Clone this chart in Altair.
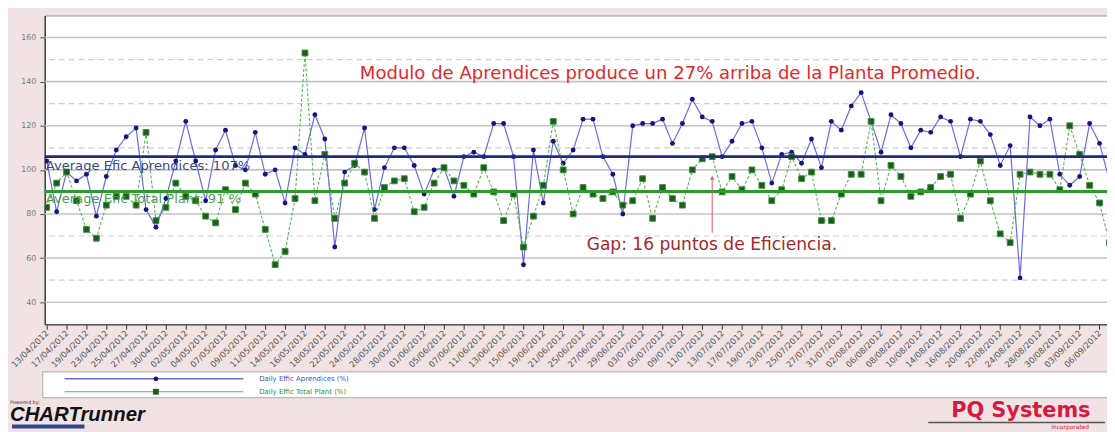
import altair as alt
import pandas as pd

# ---------------- data ----------------
blue_vals = [104, 81, 99, 95, 98, 79, 97, 109, 115, 119,
             82, 74, 87, 104, 122, 104, 86, 109, 118, 102,
             100, 117, 98, 100, 85, 110, 107, 125, 114, 65,
             99, 102, 119, 82, 101, 110, 110, 102, 89, 100,
             101, 88, 106, 108, 106, 121, 121, 106, 57, 109,
             85, 113, 103, 109, 123, 123, 106, 98, 80, 120,
             121, 121, 123, 112, 121, 132, 124, 122, 106, 113,
             121, 122, 110, 94, 107, 108, 103, 114, 101, 122,
             118, 129, 135, 122, 108, 125, 121, 110, 118, 117,
             124, 122, 106, 123, 122, 116, 102, 111, 51, 124,
             120, 123, 98, 93, 97, 121, 112, 95]

green_vals = [83, 94, 99, 86, 73, 69, 84, 88, 88, 84,
              117, 77, 83, 94, 88, 86, 79, 76, 91, 82,
              94, 89, 73, 57, 63, 87, 153, 86, 107, 78,
              94, 103, 99, 78, 92, 95, 96, 81, 83, 94,
              101, 95, 93, 89, 101, 90, 77, 89, 65, 79,
              93, 122, 100, 80, 92, 89, 87, 90, 84, 86,
              96, 78, 92, 87, 84, 100, 105, 106, 90, 97,
              91, 100, 93, 86, 91, 106, 96, 99, 77, 77,
              89, 98, 98, 122, 86, 102, 97, 88, 90, 92,
              97, 98, 78, 89, 104, 86, 71, 67, 98, 99,
              98, 98, 91, 120, 107, 93, 85, 67]

tick_labels = ["13/04/2012", "17/04/2012", "19/04/2012", "23/04/2012", "25/04/2012",
               "27/04/2012", "30/04/2012", "02/05/2012", "04/05/2012", "07/05/2012",
               "09/05/2012", "11/05/2012", "14/05/2012", "16/05/2012", "18/05/2012",
               "22/05/2012", "24/05/2012", "28/05/2012", "30/05/2012", "01/06/2012",
               "05/06/2012", "07/06/2012", "11/06/2012", "13/06/2012", "15/06/2012",
               "19/06/2012", "21/06/2012", "25/06/2012", "27/06/2012", "29/06/2012",
               "03/07/2012", "05/07/2012", "09/07/2012", "11/07/2012", "13/07/2012",
               "17/07/2012", "19/07/2012", "23/07/2012", "25/07/2012", "27/07/2012",
               "31/07/2012", "02/08/2012", "06/08/2012", "08/08/2012", "10/08/2012",
               "14/08/2012", "16/08/2012", "20/08/2012", "22/08/2012", "24/08/2012",
               "28/08/2012", "30/08/2012", "03/09/2012", "06/09/2012"]

series_names = ["Daily Effic Aprendices (%)", "Daily Effic Total Plant (%)"]
avg_values = [106, 90.2]
avg_labels = ["Average Efic Aprendices: 107%", "Average Efic Total Plant: 91 %"]
solid_grid = [40, 60, 80, 100, 120, 140, 160]
dashed_grid = [50, 70, 90, 110, 130, 150]
y_ticks = [40, 50, 60, 70, 80, 90, 100, 110, 120, 130, 140, 150, 160]

headline = "Modulo de Aprendices produce un 27% arriba de la Planta Promedio."
gap_text = "Gap: 16 puntos de Eficiencia."
gap_arrow = {"i": 67, "from": 71.5, "to": 96.4}

# ---------------- tables ----------------
df = pd.DataFrame({"i": list(range(len(blue_vals))), "blue": blue_vals, "green": green_vals})
solid_df = pd.DataFrame({"v": solid_grid})
dashed_df = pd.DataFrame({"v": dashed_grid})
arrow_df = pd.DataFrame([gap_arrow])
one = pd.DataFrame({"k": [0]})  # single row for annotations

xscale = alt.Scale(domain=[-0.2, 106.75], nice=False, zero=False)
yscale = alt.Scale(domain=[30, 170], nice=False, zero=False)

label_arr = "[" + ",".join("'" + s + "'" for s in tick_labels) + "]"
xaxis = alt.Axis(values=list(range(0, 2 * len(tick_labels), 2)),
                 labelExpr=label_arr + "[round(datum.value/2)]",
                 title=None, grid=False, domain=True, domainColor="#555555", domainWidth=1.5,
                 ticks=True, tickColor="#333333", tickSize=5, tickWidth=1,
                 labelAngle=315, labelAlign="right", labelBaseline="middle",
                 labelFont="DejaVu Sans", labelFontSize=8.5, labelColor="#555555",
                 labelPadding=2, labelOverlap=False, labelFlush=False)
yaxis = alt.Axis(values=y_ticks,
                 labelExpr="datum.value % 20 == 0 ? datum.label : ''",
                 title=None, grid=False, domain=True, domainColor="#444444", domainWidth=1.5,
                 ticks=True, tickColor="#555555", tickSize=5,
                 labelFont="DejaVu Sans", labelFontSize=8, labelColor="#777777",
                 labelPadding=4)

X = alt.X("i:Q", scale=xscale, axis=xaxis)

grid_solid = alt.Chart(solid_df).mark_rule(color="#c4c4c4", strokeWidth=1.6).encode(
    y=alt.Y("v:Q", scale=yscale, axis=yaxis))
grid_dash = alt.Chart(dashed_df).mark_rule(color="#cfcfcf", strokeWidth=1.2, strokeDash=[6, 4]).encode(
    y=alt.Y("v:Q", scale=yscale, axis=yaxis))

base = alt.Chart(df)
blue_line = base.mark_line(color="#6a6aec", strokeWidth=1.2, clip=True).encode(
    x=X, y=alt.Y("blue:Q", scale=yscale, axis=yaxis))
blue_pts = base.mark_circle(color="#15157a", size=24, opacity=1, clip=True).encode(
    x=X, y=alt.Y("blue:Q", scale=yscale, axis=yaxis))
green_line = base.mark_line(color="#58b458", strokeWidth=1.1, strokeDash=[3, 2], clip=True).encode(
    x=X, y=alt.Y("green:Q", scale=yscale, axis=yaxis))
green_pts = base.mark_square(color="#1d5a1d", size=34, opacity=1, stroke="#3f923f",
                             strokeWidth=1, clip=True).encode(
    x=X, y=alt.Y("green:Q", scale=yscale, axis=yaxis))

ann = alt.Chart(one)

avg_blue = ann.mark_rule(color="#1f2a86", strokeWidth=3).encode(y=alt.datum(avg_values[0]))
avg_green = ann.mark_rule(color="#2c9a2c", strokeWidth=3).encode(y=alt.datum(avg_values[1]))

avg_blue_txt = ann.mark_text(text=avg_labels[0], align="left", baseline="middle",
                             dy=9, font="DejaVu Sans", fontSize=13.2,
                             color="#26357f", opacity=0.9).encode(
    x=alt.value(1), y=alt.datum(avg_values[0]))
avg_green_txt = ann.mark_text(text=avg_labels[1], align="left", baseline="middle",
                              dy=8, font="DejaVu Sans", fontSize=13.2,
                              color="#3a963a", opacity=0.9).encode(
    x=alt.value(1), y=alt.datum(avg_values[1]))

head_txt = ann.mark_text(text=headline, align="center", baseline="middle",
                         font="DejaVu Sans", fontSize=18.2, color="#e8262a").encode(
    x=alt.value(630), y=alt.value(59))
gap_txt = ann.mark_text(text=gap_text, align="center", baseline="middle",
                        font="DejaVu Sans", fontSize=17.2, color="#a4282c").encode(
    x=alt.value(672), y=alt.value(231))

arrow_line = alt.Chart(arrow_df).mark_rule(color="#e55a5a", strokeWidth=1).encode(
    x=alt.X("i:Q", scale=xscale, axis=xaxis),
    y=alt.Y("from:Q", scale=yscale, axis=yaxis), y2="to:Q")
arrow_head = alt.Chart(arrow_df).mark_point(shape="triangle-up", size=22, filled=True,
                                            color="#e55a5a", opacity=1).encode(
    x=alt.X("i:Q", scale=xscale, axis=xaxis),
    y=alt.Y("to:Q", scale=yscale, axis=yaxis))

# ---------------- legend strip & logos ----------------
leg_box = ann.mark_rect(fill="white", stroke="#aaaaaa", strokeWidth=1).encode(
    x=alt.value(-2), x2=alt.value(1075), y=alt.value(359), y2=alt.value(385))
leg_blue_line = ann.mark_rule(color="#6a6aec", strokeWidth=1.5).encode(
    x=alt.value(20), x2=alt.value(200), y=alt.value(366))
leg_blue_pt = ann.mark_circle(color="#15157a", size=24, opacity=1).encode(
    x=alt.value(112), y=alt.value(366))
leg_green_line = ann.mark_rule(color="#58b458", strokeWidth=1).encode(
    x=alt.value(20), x2=alt.value(200), y=alt.value(379))
leg_green_pt = ann.mark_square(color="#1d5a1d", size=34, opacity=1).encode(
    x=alt.value(112), y=alt.value(379))
leg_blue_txt = ann.mark_text(text=series_names[0], align="left", baseline="middle",
                             font="DejaVu Sans", fontSize=7, color="#4a4ad6").encode(
    x=alt.value(216), y=alt.value(366))
leg_green_txt = ann.mark_text(text=series_names[1], align="left", baseline="middle",
                              font="DejaVu Sans", fontSize=7, color="#2f8f2f").encode(
    x=alt.value(216), y=alt.value(379))

powered = ann.mark_text(text="Powered by:", align="left", baseline="middle",
                        font="DejaVu Sans", fontSize=5, color="#333333").encode(
    x=alt.value(-35), y=alt.value(389))
chartrunner = ann.mark_text(text="CHARTrunner", align="left", baseline="alphabetic",
                            font="Liberation Sans", fontSize=20.5, fontWeight="bold",
                            fontStyle="italic", color="#111111").encode(
    x=alt.value(-35), y=alt.value(408))
cr_bar = ann.mark_rect(color="#34458f").encode(
    x=alt.value(-33), x2=alt.value(40), y=alt.value(412), y2=alt.value(416))
pq = ann.mark_text(text="PQ Systems", align="left", baseline="alphabetic",
                   font="DejaVu Sans", fontSize=21, fontWeight="bold",
                   color="#d51a44").encode(
    x=alt.value(913), y=alt.value(404))
pq_rule = ann.mark_rule(color="#555555", strokeWidth=1.5).encode(
    x=alt.value(890), x2=alt.value(1068), y=alt.value(410))
pq_inc = ann.mark_text(text="incorporated", align="right", baseline="middle",
                       font="DejaVu Sans", fontSize=6, color="#d51a44").encode(
    x=alt.value(1052), y=alt.value(415))

chart = alt.layer(
    grid_solid, grid_dash,
    blue_line, blue_pts, green_line, green_pts,
    avg_blue, avg_green, avg_blue_txt, avg_green_txt,
    head_txt, gap_txt, arrow_line, arrow_head,
    leg_box, leg_blue_line, leg_blue_pt, leg_green_line, leg_green_pt,
    leg_blue_txt, leg_green_txt,
    powered, chartrunner, cr_bar, pq, pq_rule, pq_inc,
).properties(
    width=1070, height=311,
    autosize=alt.AutoSizeParams(type="none"),
    padding={"left": 37, "top": 6, "right": 0, "bottom": 107},
    background="#f1e3e3",
).configure_view(stroke="#9a9a9a", strokeWidth=1, fill="white")

chart.save("out.html", embed_options={"renderer": "svg", "actions": False})
